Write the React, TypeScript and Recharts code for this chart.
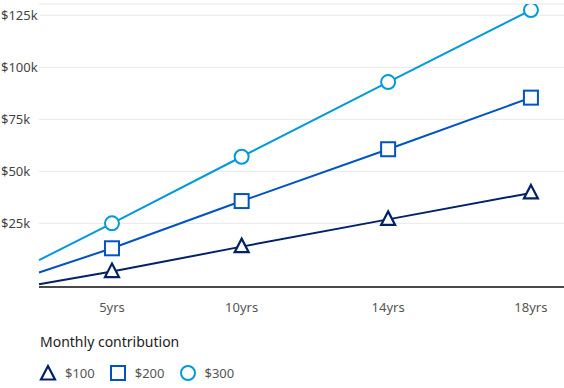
import React from 'react';
import { LineChart, Line, XAxis, YAxis, CartesianGrid } from 'recharts';

// position along the timeline (share of plot width) and the labels under it
const positions = [0, 13.9, 38.6, 66.5, 93.7];
const periods = ['', '5yrs', '10yrs', '14yrs', '18yrs'];

// projected value in $k for each monthly contribution
const s100 = [-4.3, 1.8, 13.8, 26.9, 39.6];
const s200 = [1.4, 13.0, 35.7, 60.6, 85.4];
const s300 = [7.3, 25.0, 57.0, 92.9, 127.5];

const yTicks = [25, 50, 75, 100, 125];

const series = [
    { key: 'c100', name: '$100', color: '#012169', shape: 'triangle' },
    { key: 'c200', name: '$200', color: '#0053C2', shape: 'square' },
    { key: 'c300', name: '$300', color: '#009ADB', shape: 'circle' },
];

const data = positions.map((p, i) => ({
    pos: p,
    period: periods[i],
    c100: s100[i],
    c200: s200[i],
    c300: s300[i],
}));

const FONT = '"Noto Sans", "Open Sans", sans-serif';

const Marker = ({ cx, cy, shape, color }: any) => {
    if (shape === 'triangle') {
        return <polygon points={`${cx},${cy - 8} ${cx + 7},${cy + 5.5} ${cx - 7},${cy + 5.5}`} fill="#fff" stroke={color} strokeWidth={2.2} strokeLinejoin="miter" />;
    }
    if (shape === 'square') {
        return <rect x={cx - 7} y={cy - 7} width={14} height={14} fill="#fff" stroke={color} strokeWidth={2} />;
    }
    return <circle cx={cx} cy={cy} r={7} fill="#fff" stroke={color} strokeWidth={2} />;
};

const makeDot = (shape: string, color: string) => (props: any) => {
    if (props.index === 0) return <g key={`d-${shape}-${props.index}`} />;
    return <Marker key={`d-${shape}-${props.index}`} cx={props.cx} cy={props.cy} shape={shape} color={color} />;
};

const YTick = ({ y, payload }: any) => (
    <text x={1} y={y} dy={4.5} fill="#444" fontSize={13} fontFamily={FONT} textAnchor="start">
        {`$${payload.value}k`}
    </text>
);

const XTick = ({ x, y, payload }: any) => {
    const i = positions.indexOf(payload.value);
    return (
        <text x={x} y={y + 23} fill="#555" fontSize={13} fontFamily={FONT} textAnchor="middle">
            {periods[i]}
        </text>
    );
};

const LegendIcon = ({ shape, color }: any) => (
    <svg width={18} height={18} style={{ display: 'block' }}>
        <Marker cx={9} cy={shape === 'triangle' ? 10 : 9} shape={shape} color={color} />
    </svg>
);

export default function App() {
    return (
        <div style={{ position: 'absolute', left: 0, top: 0, width: 564, height: 388, background: '#fff', fontFamily: FONT }}>
            <LineChart width={564} height={330} data={data} margin={{ top: 4, right: 0, bottom: 0, left: 0 }}>
                <CartesianGrid horizontal vertical={false} stroke="#e8e8e8" strokeWidth={1} />
                <XAxis
                    dataKey="pos"
                    type="number"
                    domain={[0, 100]}
                    ticks={positions.slice(1)}
                    tick={<XTick />}
                    tickLine={false}
                    tickSize={0}
                    height={43}
                    stroke="#111"
                    axisLine={{ stroke: '#111', strokeWidth: 1.5 }}
                />
                <YAxis
                    type="number"
                    domain={[-5.6, 130.4]}
                    ticks={yTicks}
                    tick={<YTick />}
                    axisLine={false}
                    tickLine={false}
                    width={39}
                    allowDataOverflow
                />
                {series.map((s) => (
                    <Line
                        key={s.key}
                        dataKey={s.key}
                        name={s.name}
                        stroke={s.color}
                        strokeWidth={2}
                        dot={makeDot(s.shape, s.color)}
                        activeDot={false}
                        isAnimationActive={false}
                    />
                ))}
            </LineChart>
            <div style={{ position: 'absolute', left: 40, top: 332, fontSize: 14, color: '#222' }}>Monthly contribution</div>
            <div style={{ position: 'absolute', left: 39, top: 364, display: 'flex', alignItems: 'center', fontSize: 13, color: '#555' }}>
                {series.map((s) => (
                    <div key={s.key} style={{ display: 'flex', alignItems: 'center', marginRight: 14 }}>
                        <LegendIcon shape={s.shape} color={s.color} />
                        <span style={{ marginLeft: 8 }}>{s.name}</span>
                    </div>
                ))}
            </div>
        </div>
    );
}
